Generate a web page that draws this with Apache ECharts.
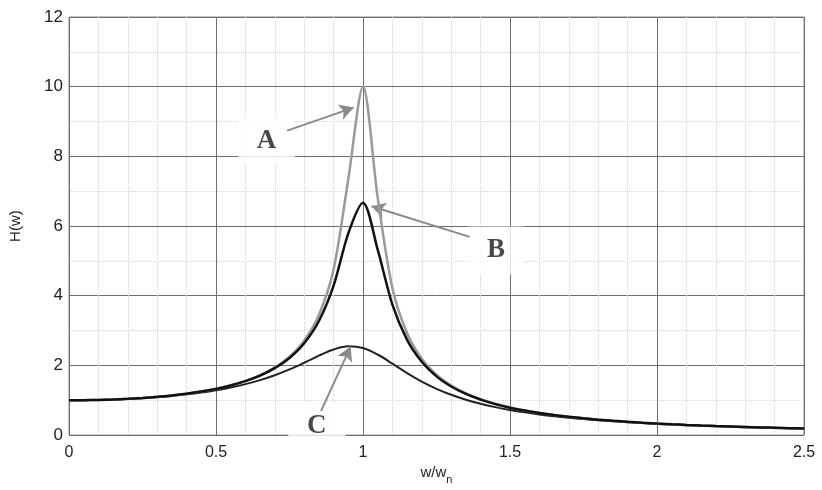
<!DOCTYPE html>
<html>
<head>
<meta charset="utf-8">
<script src="https://cdn.jsdelivr.net/npm/echarts@6/dist/echarts.min.js"></script>
<style>
html,body{margin:0;padding:0;background:#fff;}
#chart{width:822px;height:490px;}
</style>
</head>
<body>
<div id="chart"></div>
<script>
// frequency ratio w/wn
var xValues = [0,0.05,0.1,0.15,0.2,0.25,0.3,0.35,0.4,0.45,0.5,0.55,0.6,0.65,0.7,0.75,0.8,0.85,0.9,0.95,1,
  1.05,1.1,1.15,1.2,1.25,1.3,1.35,1.4,1.45,1.5,1.55,1.6,1.65,1.7,1.75,1.8,1.85,1.9,1.95,2,
  2.05,2.1,2.15,2.2,2.25,2.3,2.35,2.4,2.45,2.5];
// curve A (gray)
var hA = [1.000,1.0025,1.0100,1.0229,1.0414,1.0663,1.0983,1.1387,1.1891,1.2519,1.3304,1.4292,1.5557,1.7207,1.9426,2.2528,2.7116,3.4455,4.7565,7.346,10.0,
  6.815,4.218,2.9206,2.1926,1.7354,1.4242,1.1997,1.0308,0.8993,0.7943,0.7087,0.6377,0.5779,0.5270,0.4831,0.4450,0.4116,0.3821,0.3560,0.3326,
  0.3116,0.2927,0.2756,0.2600,0.2458,0.2328,0.2208,0.2098,0.1997,0.1903];
// curve B (black)
var hB = [1.000,1.0025,1.0100,1.0227,1.0412,1.0658,1.0976,1.1376,1.1874,1.2494,1.3267,1.4238,1.5473,1.7074,1.9205,2.2137,2.6352,3.2744,4.2904,5.7917,6.6667,
  5.3215,3.7443,2.7342,2.1035,1.6865,1.3946,1.1806,1.0176,0.8899,0.7873,0.7034,0.6336,0.5746,0.5243,0.4810,0.4432,0.4101,0.3809,0.3549,0.3317,
  0.3108,0.2920,0.2750,0.2595,0.2453,0.2323,0.2204,0.2095,0.1994,0.1900];
// curve C (black, low peak)
var hC = [1.000,1.0023,1.0093,1.0211,1.0381,1.0606,1.0895,1.1254,1.1695,1.2231,1.2883,1.3673,1.4630,1.5790,1.7188,1.8851,2.0761,2.2786,2.4566,2.5490,2.5000,
  2.3131,2.0511,1.7800,1.5357,1.3287,1.1574,1.0163,0.8998,0.8027,0.7212,0.6521,0.5931,0.5421,0.4979,0.4591,0.4250,0.3948,0.3679,0.3438,0.3221,
  0.3025,0.2847,0.2686,0.2538,0.2403,0.2279,0.2165,0.2059,0.1962,0.1871];
// annotation letters (x, y, text)
var labelNames = ['A','B','C'];
var labelX = [0.672, 1.452, 0.843];
var labelY = [8.45, 5.3, 0.27];
// annotation arrows: tail -> head
var arrowTailX = [0.742, 1.363, 0.857];
var arrowTailY = [8.74, 5.69, 0.69];
var arrowHeadX = [0.968, 1.029, 0.958];
var arrowHeadY = [9.40, 6.57, 2.54];

function pairs(xs, ys){ return xs.map(function(x,i){ return [x, ys[i]]; }); }

var chart = echarts.init(document.getElementById('chart'), null, {renderer:'canvas'});
var font = 'Liberation Sans, Arial, sans-serif';
var option = {
  animation:false,
  backgroundColor:'#fff',
  grid:{left:63, right:18, top:17, bottom:53, show:true, borderColor:'#8c8c8c', borderWidth:1, backgroundColor:'transparent'},
  xAxis:{
    type:'value', min:0, max:2.5, interval:0.5,
    name:'{m|w/w}{s|n}', nameLocation:'middle', nameGap:24,
    nameTextStyle:{rich:{m:{fontFamily:font, fontSize:15, color:'#222'}, s:{fontFamily:font, fontSize:11, color:'#222', padding:[14,0,0,0]}}},
    axisLine:{show:false}, axisTick:{show:false},
    axisLabel:{fontFamily:font, fontSize:16, color:'#222', margin:9},
    splitLine:{show:true, lineStyle:{color:'#6e6e6e', width:1}},
    minorTick:{show:false, splitNumber:5},
    minorSplitLine:{show:true, lineStyle:{color:'#d4d4d4', width:1, type:'dotted'}}
  },
  yAxis:{
    type:'value', min:0, max:12, interval:2,
    name:'H(w)', nameLocation:'middle', nameGap:46,
    nameTextStyle:{fontFamily:font, fontSize:15, color:'#222'},
    axisLine:{show:false}, axisTick:{show:false},
    axisLabel:{fontFamily:font, fontSize:17, color:'#222', margin:6},
    splitLine:{show:true, lineStyle:{color:'#6e6e6e', width:1}},
    minorTick:{show:false, splitNumber:2},
    minorSplitLine:{show:true, lineStyle:{color:'#d4d4d4', width:1, type:'dotted'}}
  },
  series:[
    {
      type:'scatter', name:'labels', z:3,
      symbol:'rect', symbolSize:[57,48],
      itemStyle:{color:'#ffffff'},
      data: labelNames.map(function(n,i){ return [labelX[i], labelY[i], n]; }),
      label:{show:true, position:'inside', formatter:function(p){return p.value[2];},
        fontFamily:'Liberation Serif, Times New Roman, serif', fontWeight:'bold', fontSize:27, color:'#1a1a1a'},
      emphasis:{disabled:true}
    },
    {
      type:'line', name:'C', z:4, data:pairs(xValues,hC), showSymbol:false, symbol:'none', smooth:0.35,
      lineStyle:{color:'#222', width:2}
    },
    {
      type:'line', name:'A', z:5, data:pairs(xValues,hA), showSymbol:false, symbol:'none', smooth:0.3,
      lineStyle:{color:'#9a9a9a', width:2.5}
    },
    {
      type:'line', name:'B', z:6, data:pairs(xValues,hB), showSymbol:false, symbol:'none', smooth:0.3,
      lineStyle:{color:'#111', width:2.5},
      markLine:{
        silent:true, symbol:['none','arrow'], symbolSize:[12,14],
        lineStyle:{color:'#8a8a8a', width:2, type:'solid'},
        label:{show:false},
        data: labelNames.map(function(n,i){
          return [{coord:[arrowTailX[i], arrowTailY[i]]}, {coord:[arrowHeadX[i], arrowHeadY[i]]}];
        })
      }
    }
  ]
};
chart.setOption(option);
</script>
</body>
</html>
